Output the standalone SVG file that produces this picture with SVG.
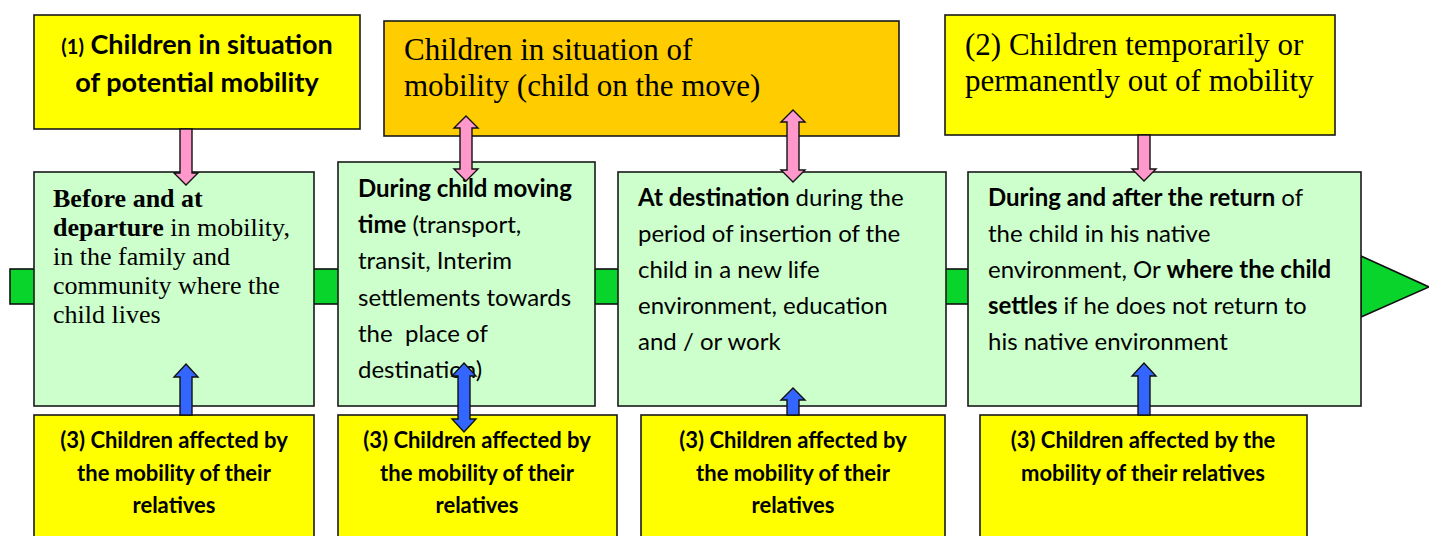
<svg xmlns="http://www.w3.org/2000/svg" width="1429" height="536" viewBox="0 0 1429 536">
<style>
.box{stroke:#1a1a1a;stroke-width:1.6}
.yel{fill:#ffff00}
.org{fill:#ffcc00}
.grn{fill:#ccffcc}
.band{fill:#08d42c;stroke:#111;stroke-width:1.6}
.pink{fill:#ff99cc;stroke:#111;stroke-width:1.4;stroke-linejoin:miter}
.blue{fill:#3366ff;stroke:#111;stroke-width:1.4}
.tm{font-family:"Liberation Serif","Times New Roman",serif;fill:#000}
.sn{font-family:Lato,"Liberation Sans",sans-serif;fill:#000}
.b{font-weight:bold}
.c{text-anchor:middle}
.g{font-size:24px}
.y3{font-size:22px}
</style>
<g id="timeline">
<rect class="band" x="10" y="269" width="1351" height="35"/>
<polygon class="band" points="1361,256 1429,287 1361,317"/>
</g>
<g id="stage1">
<rect class="box grn" x="34" y="172" width="280" height="234"/>
<text class="tm" font-size="26" x="53" y="207"><tspan class="b">Before and at</tspan></text>
<text class="tm" font-size="26" x="53" y="236"><tspan class="b">departure</tspan> in mobility,</text>
<text class="tm" font-size="26" x="53" y="265">in the family and</text>
<text class="tm" font-size="26" x="53" y="294">community where the</text>
<text class="tm" font-size="26" x="53" y="323">child lives</text>
</g>
<g id="stage2">
<rect class="box grn" x="338" y="162" width="257" height="244"/>
<text class="sn b g" x="358" y="197">During child moving</text>
<text class="sn g" x="358" y="233"><tspan class="b">time</tspan> (transport,</text>
<text class="sn g" x="358" y="269">transit, Interim</text>
<text class="sn g" x="358" y="306">settlements towards</text>
<text class="sn g" x="358" y="342" xml:space="preserve">the  place of</text>
<text class="sn g" x="358" y="378">destination)</text>
</g>
<g id="stage3">
<rect class="box grn" x="618" y="172" width="328" height="234"/>
<text class="sn g" x="638" y="206"><tspan class="b">At destination</tspan> during the</text>
<text class="sn g" x="638" y="242">period of insertion of the</text>
<text class="sn g" x="638" y="278">child in a new life</text>
<text class="sn g" x="638" y="314">environment, education</text>
<text class="sn g" x="638" y="350">and / or work</text>
</g>
<g id="stage4">
<rect class="box grn" x="968" y="172" width="393" height="234"/>
<text class="sn g" x="988" y="206"><tspan class="b">During and after the return</tspan> of</text>
<text class="sn g" x="988" y="242">the child in his native</text>
<text class="sn g" x="988" y="278">environment, Or <tspan class="b">where the child</tspan></text>
<text class="sn g" x="988" y="314"><tspan class="b">settles</tspan> if he does not return to</text>
<text class="sn g" x="988" y="350">his native environment</text>
</g>
<g id="potential">
<rect class="box yel" x="34" y="15" width="326" height="114"/>
<text class="sn b c" x="197" y="54"><tspan font-size="20">(1)</tspan><tspan font-size="27"> Children in situation</tspan></text>
<text class="sn b c" font-size="27" x="197" y="92">of potential mobility</text>
</g>
<g id="onthemove">
<rect class="box org" x="384" y="21" width="515" height="115"/>
<text class="tm" font-size="31" x="404" y="60">Children in situation of</text>
<text class="tm" font-size="31" x="404" y="96">mobility (child on the move)</text>
</g>
<g id="outofmobility">
<rect class="box yel" x="945" y="15" width="390" height="120"/>
<text class="tm" font-size="31" x="965" y="55">(2) Children temporarily or</text>
<text class="tm" font-size="31" x="965" y="91">permanently out of mobility</text>
</g>
<g id="affected1">
<rect class="box yel" x="34" y="415" width="280" height="130"/>
<text class="sn b c y3" x="174" y="448">(3) Children affected by</text>
<text class="sn b c y3" x="174" y="481">the mobility of their</text>
<text class="sn b c y3" x="174" y="513">relatives</text>
</g>
<g id="affected2">
<rect class="box yel" x="338" y="415" width="279" height="130"/>
<text class="sn b c y3" x="477" y="448">(3) Children affected by</text>
<text class="sn b c y3" x="477" y="481">the mobility of their</text>
<text class="sn b c y3" x="477" y="513">relatives</text>
</g>
<g id="affected3">
<rect class="box yel" x="641" y="415" width="304" height="130"/>
<text class="sn b c y3" x="793" y="448">(3) Children affected by</text>
<text class="sn b c y3" x="793" y="481">the mobility of their</text>
<text class="sn b c y3" x="793" y="513">relatives</text>
</g>
<g id="affected4">
<rect class="box yel" x="980" y="415" width="327" height="130"/>
<text class="sn b c y3" x="1143" y="448">(3) Children affected by the</text>
<text class="sn b c y3" x="1143" y="481">mobility of their relatives</text>
</g>
<g id="connectors">
<polygon class="pink" points="180,129 192,129 192,173 198,173 186,185 174,173 180,173"/>
<polygon class="pink" points="466,116 478,128 472,128 472,169 478,169 466,181 454,169 460,169 460,128 454,128"/>
<polygon class="pink" points="793,110 805,122 799,122 799,170 805,170 793,182 781,170 787,170 787,122 781,122"/>
<polygon class="pink" points="1138,135 1150,135 1150,169 1156,169 1144,181 1132,169 1138,169"/>
<polygon class="blue" points="180,415 192,415 192,377 198,377 186,364 174,377 180,377"/>
<polygon class="blue" points="464,363 476,376 470,376 470,419 476,419 464,432 452,419 458,419 458,376 452,376"/>
<polygon class="blue" points="787,415 799,415 799,400 805,400 793,388 781,400 787,400"/>
<polygon class="blue" points="1138,415 1150,415 1150,376 1156,376 1144,363 1132,376 1138,376"/>
</g>
</svg>
